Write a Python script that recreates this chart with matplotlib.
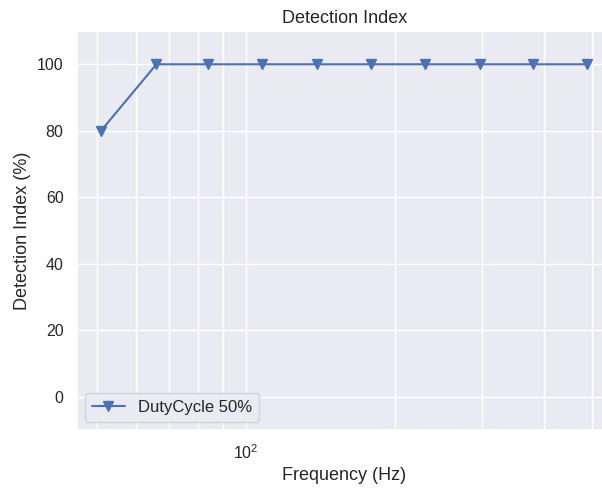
import matplotlib
matplotlib.use("Agg")
import matplotlib.pyplot as plt
import seaborn as sns

frequency_hz = [51, 66, 84, 108, 139, 179, 230, 297, 381, 490]
detection_index = [80, 100, 100, 100, 100, 100, 100, 100, 100, 100]
series_label = "DutyCycle 50%"

sns.set_theme(style="darkgrid")
plt.rcParams['font.family'] = ['Liberation Sans', 'DejaVu Sans']
plt.rcParams['mathtext.fontset'] = 'custom'
plt.rcParams['mathtext.rm'] = 'Liberation Sans'
plt.rcParams['mathtext.it'] = 'Liberation Sans:italic'
plt.rcParams['mathtext.bf'] = 'Liberation Sans:bold'

fig = plt.figure(figsize=(6.02, 4.94), dpi=100)
ax = fig.add_axes([0.1274, 0.1296, 1.016 - 0.1274, 0.9372 - 0.1296])
ax.plot(frequency_hz, detection_index, marker='v', color='#4C72B0',
        markersize=7, linewidth=1.5, label=series_label)
ax.set_xscale('log')
ax.set_ylim(-10, 110)
ax.grid(True, which='both', axis='x', color='white')
ax.set_title("Detection Index", fontsize=13)
ax.set_xlabel("Frequency (Hz)", fontsize=13)
ax.set_ylabel("Detection Index (%)", fontsize=13)
ax.tick_params(labelsize=11.5)
ax.legend(loc='lower left', fontsize=12)
fig.savefig("out.png", dpi=100)
